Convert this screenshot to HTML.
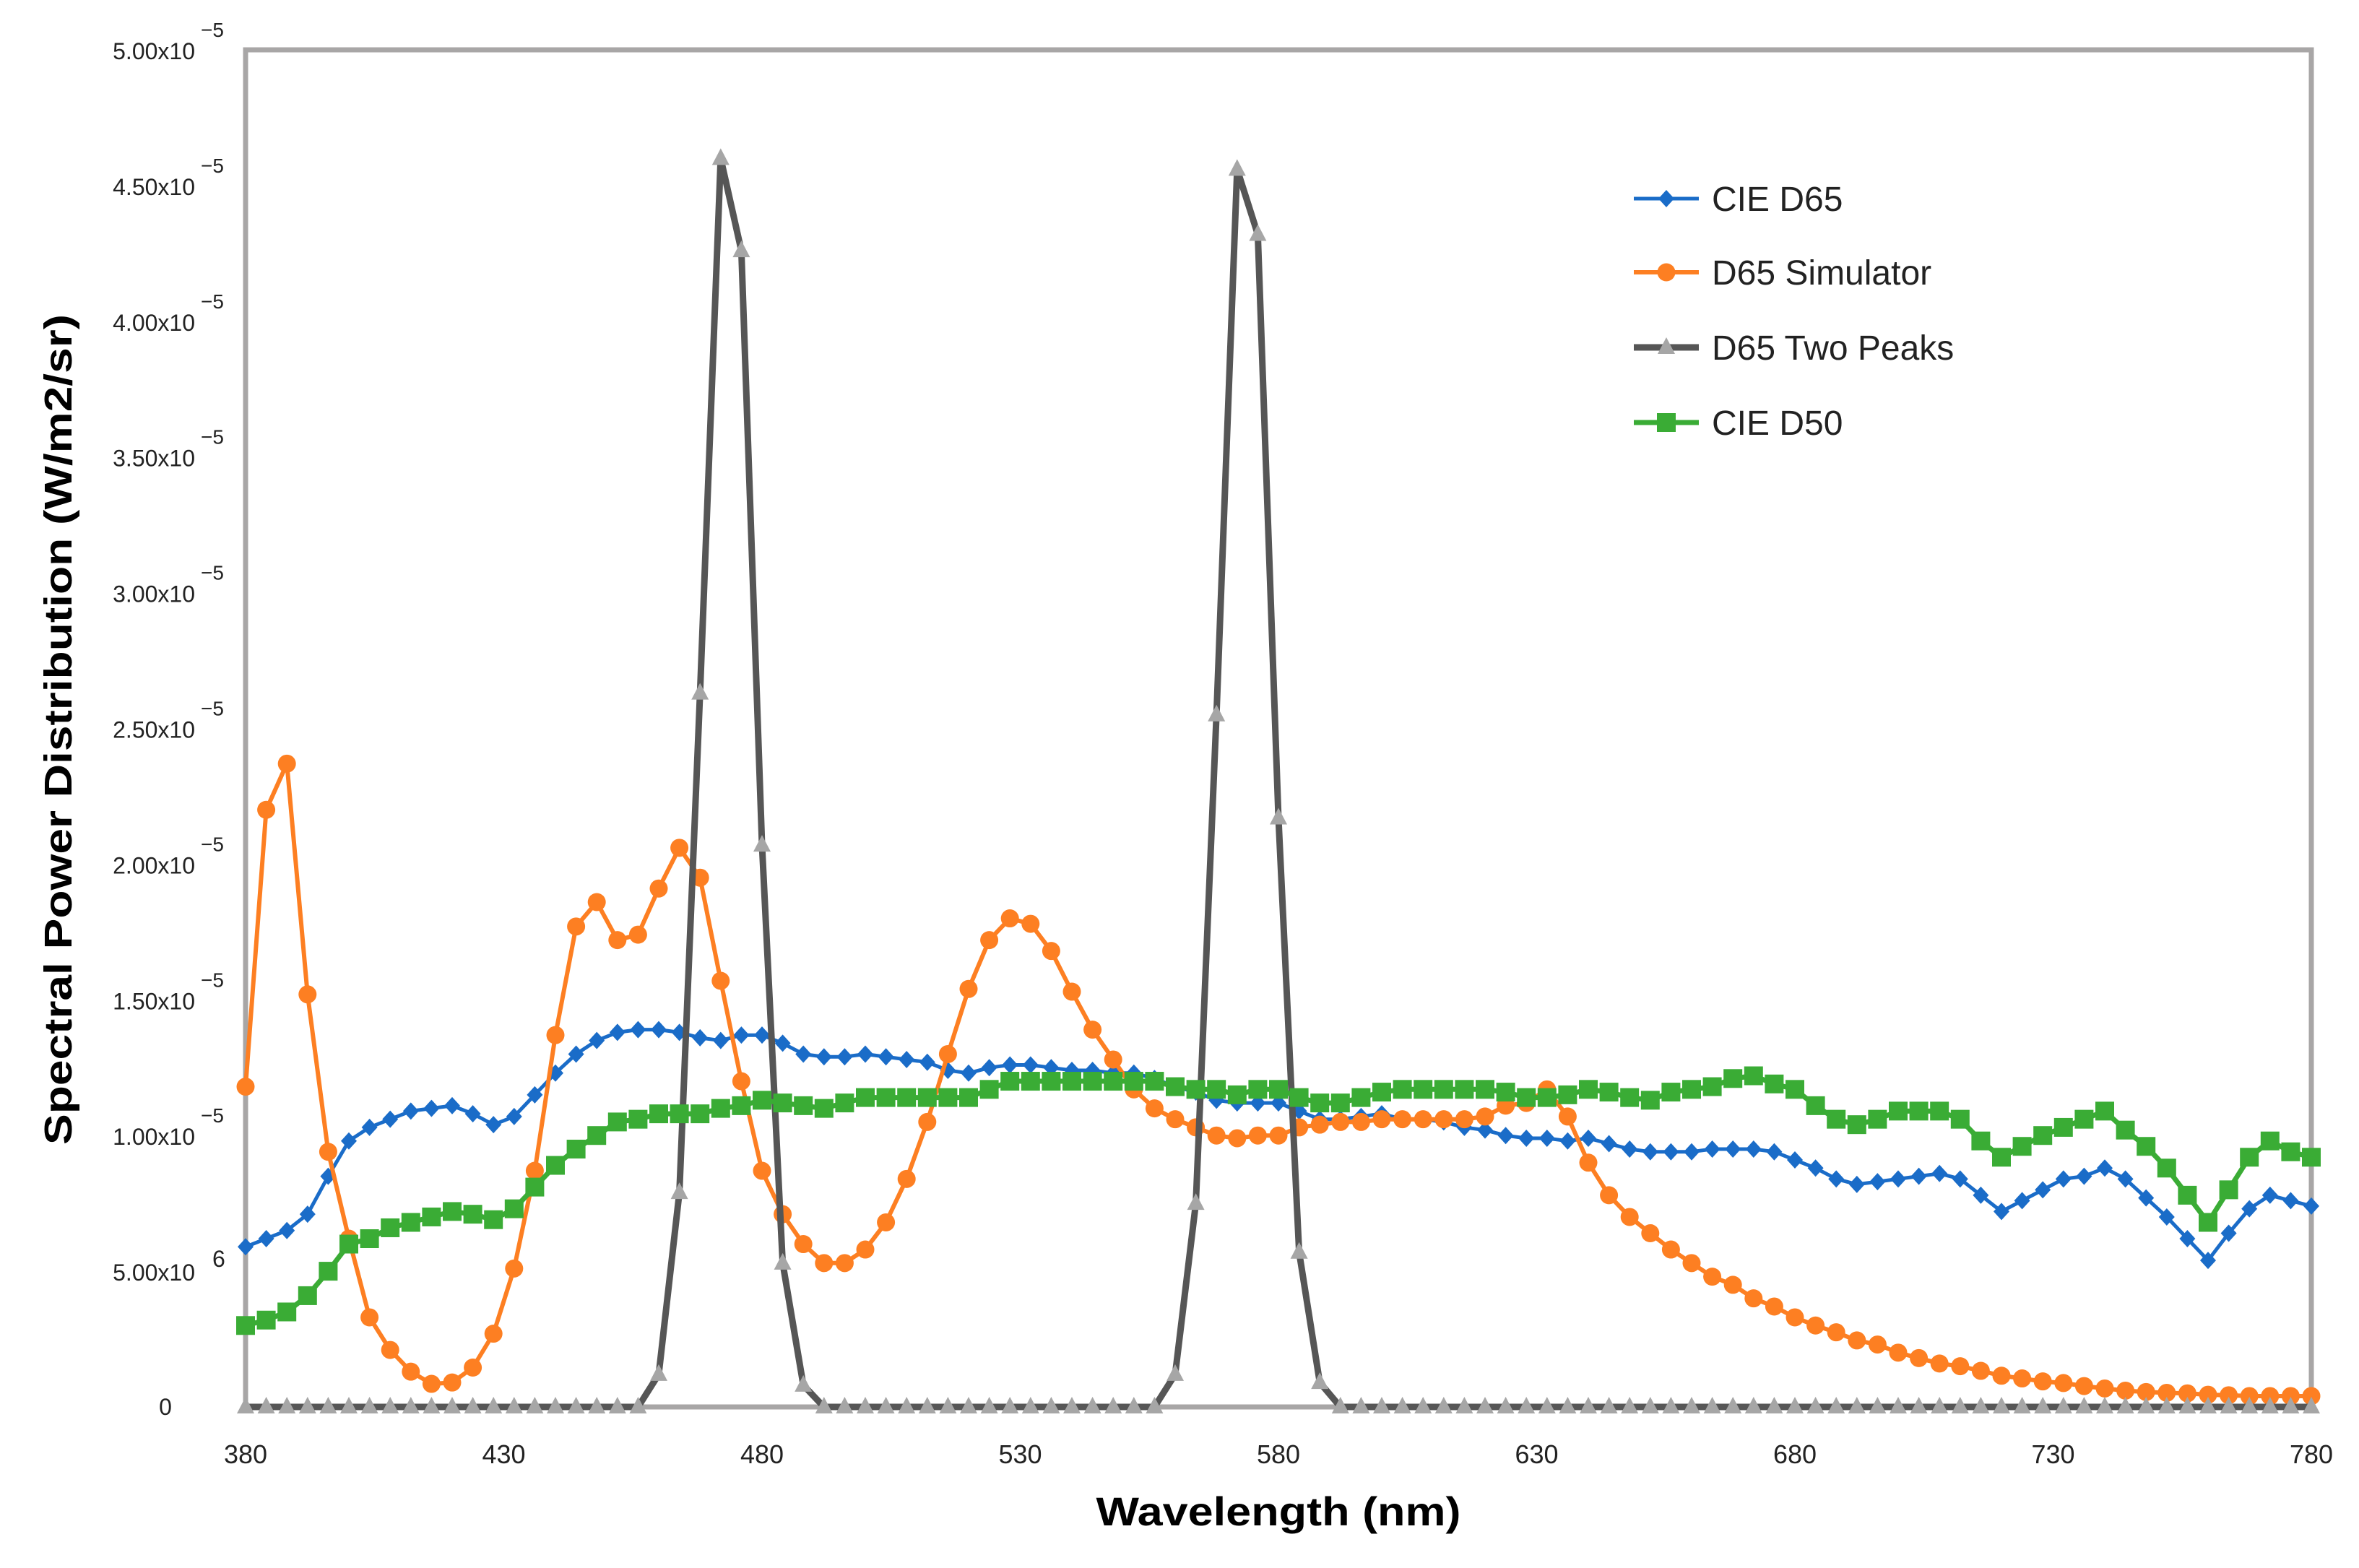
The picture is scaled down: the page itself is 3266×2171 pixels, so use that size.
<!DOCTYPE html>
<html><head><meta charset="utf-8"><style>
html,body{margin:0;padding:0;background:#fff;}
svg{display:block;font-family:"Liberation Sans",sans-serif;}
</style></head><body>
<svg id="chart" width="3266" height="2171" viewBox="0 0 3266 2171" xmlns="http://www.w3.org/2000/svg">
<rect x="0" y="0" width="3266" height="2171" fill="#fff"/>
<g id="ylabels"></g>
<g id="xlabels"></g>
<rect x="340" y="69" width="2860" height="1879" fill="none" stroke="#a8a6a6" stroke-width="7"/>
<g id="series"></g>
<text x="1770" y="2112" font-size="56" font-weight="bold" text-anchor="middle" textLength="505" lengthAdjust="spacingAndGlyphs" fill="#000">Wavelength (nm)</text>
<text transform="translate(99,1010) rotate(-90)" font-size="54" font-weight="bold" text-anchor="middle" textLength="1150" lengthAdjust="spacingAndGlyphs" fill="#000">Spectral Power Distribution (W/m2/sr)</text>
<g id="legend"></g>
</svg>
<script>
const wavelengthStart = 380;
const wavelengthStep = 4;
const xTicks = [380,430,480,530,580,630,680,730,780];
const yTicks = [0,0.5,1.0,1.5,2.0,2.5,3.0,3.5,4.0,4.5,5.0];
const yTickLabels = ["0","5.00x10","1.00x10","1.50x10","2.00x10","2.50x10","3.00x10","3.50x10","4.00x10","4.50x10","5.00x10"];
const yTickExps = ["","6","\u22125","\u22125","\u22125","\u22125","\u22125","\u22125","\u22125","\u22125","\u22125"];
const seriesNames = ["CIE D65","D65 Simulator","D65 Two Peaks","CIE D50"];
// values in units of 1e-5 W/m2/sr, 380..780 nm step 4
const cieD65 = [0.59,0.62,0.65,0.71,0.85,0.98,1.03,1.06,1.09,1.10,1.11,1.08,1.04,1.07,1.15,1.23,1.30,1.35,1.38,1.39,1.39,1.38,1.36,1.35,1.37,1.37,1.34,1.30,1.29,1.29,1.30,1.29,1.28,1.27,1.24,1.23,1.25,1.26,1.26,1.25,1.24,1.24,1.23,1.23,1.21,1.18,1.16,1.13,1.12,1.12,1.12,1.09,1.06,1.06,1.07,1.08,1.06,1.06,1.05,1.03,1.02,1.00,0.99,0.99,0.98,0.99,0.97,0.95,0.94,0.94,0.94,0.95,0.95,0.95,0.94,0.91,0.88,0.84,0.82,0.83,0.84,0.85,0.86,0.84,0.78,0.72,0.76,0.80,0.84,0.85,0.88,0.84,0.77,0.70,0.62,0.54,0.64,0.73,0.78,0.76,0.74];
const d65Simulator = [1.18,2.20,2.37,1.52,0.94,0.62,0.33,0.21,0.13,0.085,0.09,0.145,0.27,0.51,0.87,1.37,1.77,1.86,1.72,1.74,1.91,2.06,1.95,1.57,1.20,0.87,0.71,0.60,0.53,0.53,0.58,0.68,0.84,1.05,1.30,1.54,1.72,1.80,1.78,1.68,1.53,1.39,1.28,1.17,1.10,1.06,1.03,1.00,0.99,1.00,1.00,1.03,1.04,1.05,1.05,1.06,1.06,1.06,1.06,1.06,1.07,1.11,1.12,1.17,1.07,0.90,0.78,0.70,0.64,0.58,0.53,0.48,0.45,0.40,0.37,0.33,0.30,0.275,0.245,0.23,0.20,0.18,0.16,0.15,0.133,0.115,0.105,0.094,0.088,0.077,0.068,0.06,0.055,0.052,0.05,0.045,0.043,0.04,0.04,0.04,0.04];
const d65TwoPeaks = [0,0,0,0,0,0,0,0,0,0,0,0,0,0,0,0,0,0,0,0,0.12,0.79,2.63,4.60,4.26,2.07,0.53,0.08,0,0,0,0,0,0,0,0,0,0,0,0,0,0,0,0,0,0.12,0.75,2.55,4.56,4.32,2.17,0.57,0.09,0,0,0,0,0,0,0,0,0,0,0,0,0,0,0,0,0,0,0,0,0,0,0,0,0,0,0,0,0,0,0,0,0,0,0,0,0,0,0,0,0,0,0,0,0,0,0,0];
const cieD50 = [0.30,0.32,0.35,0.41,0.50,0.60,0.62,0.66,0.68,0.70,0.72,0.71,0.69,0.73,0.81,0.89,0.95,1.00,1.05,1.06,1.08,1.08,1.08,1.10,1.11,1.13,1.12,1.11,1.10,1.12,1.14,1.14,1.14,1.14,1.14,1.14,1.17,1.20,1.20,1.20,1.20,1.20,1.20,1.20,1.20,1.18,1.17,1.17,1.15,1.17,1.17,1.14,1.12,1.12,1.14,1.16,1.17,1.17,1.17,1.17,1.17,1.16,1.14,1.14,1.15,1.17,1.16,1.14,1.13,1.16,1.17,1.18,1.21,1.22,1.19,1.17,1.11,1.06,1.04,1.06,1.09,1.09,1.09,1.06,0.98,0.92,0.96,1.00,1.03,1.06,1.09,1.02,0.96,0.88,0.78,0.68,0.80,0.92,0.98,0.94,0.92];

const NS="http://www.w3.org/2000/svg";
const X0=340,X1=3200,Y0=1948,Y1=69;
function xs(nm){return X0+(nm-380)/400*(X1-X0);}
function ys(v){return Y0-v/5*(Y0-Y1);}
function mk(tag,attrs,parent){const e=document.createElementNS(NS,tag);for(const k in attrs)e.setAttribute(k,attrs[k]);parent.appendChild(e);return e;}

const yl=document.getElementById('ylabels');
yTicks.forEach((t,i)=>{
  const y=ys(t);
  if(i===0){
    const tx=mk('text',{x:229,y:y+11,'font-size':32,'text-anchor':'middle',fill:'#222'},yl);
    
    
    tx.textContent=yTickLabels[i];return;
  }
  const tx=mk('text',{x:270,y:y+13,'font-size':32,'text-anchor':'end',fill:'#222'},yl);
  
  
  tx.textContent=yTickLabels[i];
  const ex=mk('text',{x:(i===1?294:278),y:(i===1?y-6:y-18),'font-size':(i===1?32:28),fill:'#222'},yl);
  
  
  ex.textContent=yTickExps[i];
});
const xl=document.getElementById('xlabels');
xTicks.forEach(t=>{
  const tx=mk('text',{x:xs(t),y:2026,'font-size':36,'text-anchor':'middle',fill:'#222'},xl);
  
  
  tx.textContent=t;
});

const sg=document.getElementById('series');
function pts(arr){return arr.map((v,i)=>xs(wavelengthStart+i*wavelengthStep).toFixed(1)+','+ys(v).toFixed(1)).join(' ');}
function marker(shape,cx,cy,color,g){
  let e;
  if(shape==='diamond') e=mk('polygon',{points:`${cx},${cy-12} ${cx+11},${cy} ${cx},${cy+12} ${cx-11},${cy}`,fill:color},g);
  else if(shape==='circle') e=mk('circle',{cx:cx,cy:cy,r:12.5,fill:color},g);
  else if(shape==='triangle') e=mk('polygon',{points:`${cx},${cy-14} ${cx+12},${cy+9} ${cx-12},${cy+9}`,fill:color},g);
  else e=mk('rect',{x:cx-13,y:cy-13,width:26,height:26,fill:color},g);
  return e;
}
const seriesDefs=[
  {arr:cieD65,line:'#1a6cc8',mark:'#1a6cc8',shape:'diamond',w:5,name:'series-cie-d65'},
  {arr:d65Simulator,line:'#fd7f22',mark:'#fd7f22',shape:'circle',w:6,name:'series-d65-simulator'},
  {arr:d65TwoPeaks,line:'#565656',mark:'#a6a6a6',shape:'triangle',w:9,name:'series-d65-two-peaks'},
  {arr:cieD50,line:'#3aac35',mark:'#3aac35',shape:'square',w:7,name:'series-cie-d50'}
];
seriesDefs.forEach(s=>{
  const g=mk('g',{},sg);
  
  
  const pl=mk('polyline',{points:pts(s.arr),fill:'none',stroke:s.line,'stroke-width':s.w,'stroke-linejoin':'round'},g);
  
  
  s.arr.forEach((v,i)=>{
    const m=marker(s.shape,xs(wavelengthStart+i*wavelengthStep),ys(v),s.mark,g);
    
    
  });
});

const lg=document.getElementById('legend');
const legY=[275,377,481,585];
seriesDefs.forEach((s,i)=>{
  const g=mk('g',{},lg);
  
  
  mk('line',{x1:2262,y1:legY[i],x2:2352,y2:legY[i],stroke:s.line,'stroke-width':s.w},g);
  marker(s.shape,2307,legY[i],s.mark,g);
  const t=mk('text',{x:2370,y:legY[i]+17,'font-size':48,fill:'#222'},g);
  
  
  t.textContent=seriesNames[i];
});
</script>
</body></html>
